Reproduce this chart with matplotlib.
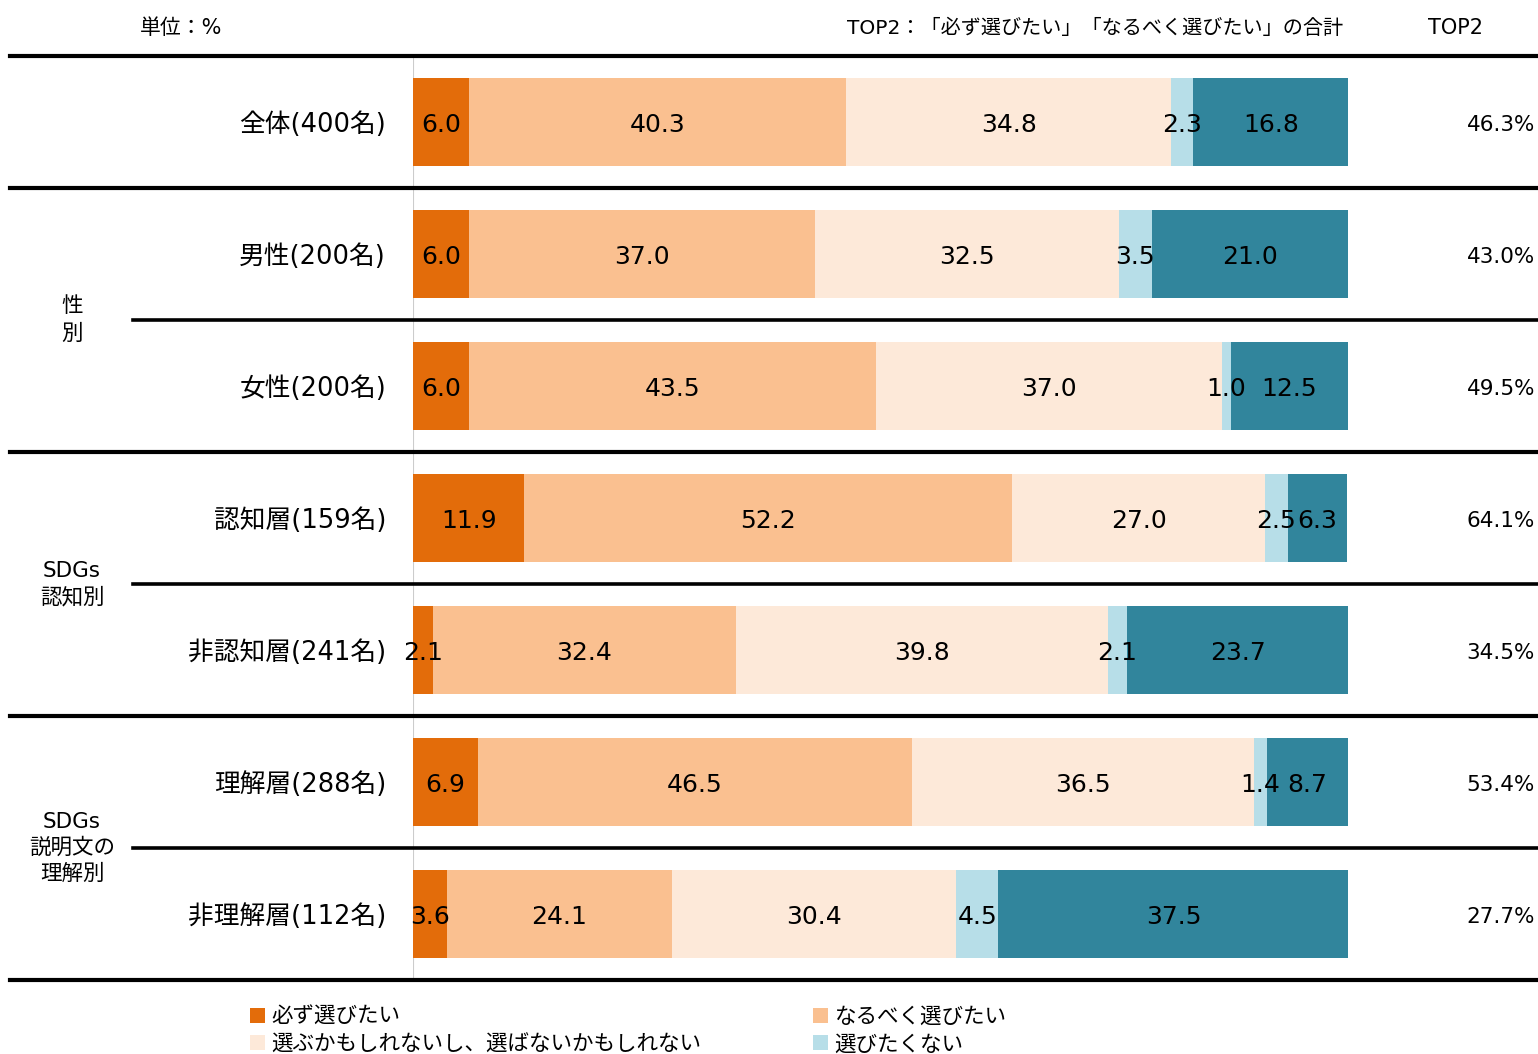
import numpy as np
import matplotlib
matplotlib.use("Agg")
import matplotlib.pyplot as plt
from matplotlib import transforms

plt.rcParams['font.family'] = ['DejaVu Sans', 'Noto Sans CJK JP']

# data
rows = ["全体(400名)", "男性(200名)", "女性(200名)", "認知層(159名)",
        "非認知層(241名)", "理解層(288名)", "非理解層(112名)"]
categories = ["必ず選びたい", "なるべく選びたい", "選ぶかもしれないし、選ばないかもしれない",
              "選びたくない", "絶対に選ばない"]
v_must = [6.0, 6.0, 6.0, 11.9, 2.1, 6.9, 3.6]
v_rather = [40.3, 37.0, 43.5, 52.2, 32.4, 46.5, 24.1]
v_maybe = [34.8, 32.5, 37.0, 27.0, 39.8, 36.5, 30.4]
v_not = [2.3, 3.5, 1.0, 2.5, 2.1, 1.4, 4.5]
v_never = [16.8, 21.0, 12.5, 6.3, 23.7, 8.7, 37.5]
colors = ["#E36C0A", "#FAC090", "#FDE9D9", "#B7DEE8", "#31859C"]

W, H = 1538, 1054
fig = plt.figure(figsize=(W / 100, H / 100), dpi=100)
ax = fig.add_axes([413 / W, 1 - 980 / H, (1348 - 413) / W, (980 - 56) / H])

data = np.array([v_must, v_rather, v_maybe, v_not, v_never])
y = np.arange(len(rows))
left = np.zeros(len(rows))
handles = []
for i, vals in enumerate(data):
    b = ax.barh(y, vals, left=left, height=0.667, color=colors[i], label=categories[i])
    handles.append(b)
    for yy, l, v in zip(y, left, vals):
        ax.text(l + v / 2, yy + 0.02, f"{v:.1f}", ha='center', va='center', fontsize=18, color='black')
    left += vals

ax.set_xlim(0, 100)
ax.set_ylim(len(rows) - 0.5, -0.5)
ax.axis('off')
ax.axvline(0, color='#cccccc', lw=1.5, zorder=0)

# row labels and TOP2
tr_fig_data = transforms.blended_transform_factory(fig.transFigure, ax.transData)
top2 = data[0] + data[1]
for yy, name, t in zip(y, rows, top2):
    ax.text(386 / W, yy + 0.025, name, transform=tr_fig_data, ha='right', va='center', fontsize=18.5)
    ax.text(1535 / W, yy + 0.02, f"{t:.1f}%", transform=tr_fig_data, ha='right', va='center', fontsize=15.5)

# separator lines
for yl in [-0.5, 0.5, 2.5, 4.5, 6.5]:
    ax.plot([10 / W, 1.0], [yl, yl], transform=tr_fig_data, color='black', lw=3, clip_on=False)
for yl in [1.5, 3.5, 5.5]:
    ax.plot([133 / W, 1.0], [yl, yl], transform=tr_fig_data, color='black', lw=2.6, clip_on=False)

# group labels
ax.text(72 / W, 1.5, "性\n別", transform=tr_fig_data, ha='center', va='center', fontsize=15.5, linespacing=1.5)
ax.text(72 / W, 3.5, "SDGs\n認知別", transform=tr_fig_data, ha='center', va='center', fontsize=15.5, linespacing=1.35)
ax.text(72 / W, 5.5, "SDGs\n説明文の\n理解別", transform=tr_fig_data, ha='center', va='center', fontsize=15.5, linespacing=1.35)

# header
fig.text(140 / W, 1 - 28 / H, "単位：%", ha='left', va='center', fontsize=15)
fig.text(1343 / W, 1 - 28 / H, "TOP2：「必ず選びたい」「なるべく選びたい」の合計", ha='right', va='center', fontsize=14.5)
fig.text(1456 / W, 1 - 28 / H, "TOP2", ha='center', va='center', fontsize=15)

# legend
order = [0, 2, 1, 3]
fig.legend([handles[i] for i in order], [categories[i] for i in order],
           ncol=2, loc='upper left', bbox_to_anchor=(239 / W, 1 - 996 / H),
           frameon=False, fontsize=15.5, handlelength=0.7, handleheight=0.7,
           handletextpad=0.3, labelspacing=0.35, columnspacing=5.2, borderpad=0)

fig.savefig("out.png", dpi=100)
